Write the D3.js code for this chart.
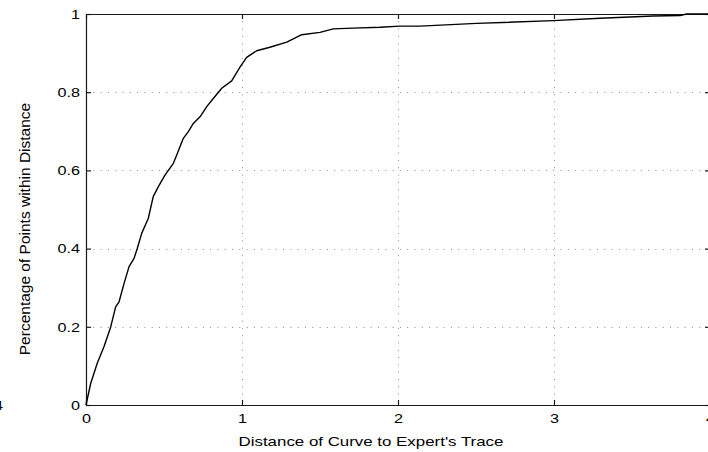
<!DOCTYPE html>
<html>
<head>
<meta charset="utf-8">
<script src="https://cdn.jsdelivr.net/npm/d3@7"></script>
<style>
  html, body { margin: 0; padding: 0; background: #fff; overflow: hidden; }
  svg { display: block; }
  text { font-family: "Liberation Sans", Arial, Helvetica, sans-serif; fill: #000; }
</style>
</head>
<body>
<svg id="chart" width="708" height="452"></svg>
<script>
// Cumulative fraction of points within a given distance of the expert's trace
const distance = [0, 0.030, 0.072, 0.115, 0.158, 0.190, 0.212, 0.244, 0.276, 0.308, 0.329,
  0.357, 0.399, 0.431, 0.463, 0.506, 0.560, 0.581, 0.624, 0.656, 0.688, 0.731, 0.774,
  0.816, 0.870, 0.934, 0.987, 1.030, 1.094, 1.179, 1.287, 1.383, 1.500, 1.585, 1.713,
  1.885, 2.013, 2.141, 2.504, 2.996, 3.295, 3.637, 3.808, 3.850, 4.0];
const fraction = [0, 0.055, 0.107, 0.149, 0.199, 0.251, 0.264, 0.311, 0.354, 0.375, 0.401,
  0.439, 0.477, 0.533, 0.558, 0.588, 0.618, 0.639, 0.682, 0.699, 0.720, 0.737, 0.763,
  0.784, 0.810, 0.829, 0.864, 0.889, 0.906, 0.915, 0.928, 0.947, 0.953, 0.962, 0.964,
  0.966, 0.969, 0.969, 0.976, 0.983, 0.989, 0.995, 0.996, 1.0, 1.0];

const xTicks = [0, 1, 2, 3, 4];
const yTicks = [0, 0.2, 0.4, 0.6, 0.8, 1];
const xTitle = "Distance of Curve to Expert's Trace";
const yTitle = "Percentage of Points within Distance";

const margin = { left: 86, top: 14 };
const plotW = 624, plotH = 391;

const svg = d3.select("#chart");
const g = svg.append("g").attr("transform", `translate(${margin.left},${margin.top})`);

const x = d3.scaleLinear().domain([0, 4]).range([0, plotW]);
const y = d3.scaleLinear().domain([0, 1]).range([plotH, 0]);

// widen a text horizontally by a factor, keeping its anchor
function widen(sel, k) {
  sel.each(function () {
    const len = this.getComputedTextLength();
    if (len > 0) {
      d3.select(this).attr("textLength", len * k).attr("lengthAdjust", "spacingAndGlyphs");
    }
  });
}

// dotted grid
const grid = g.append("g").attr("stroke", "#8f8f8f").attr("stroke-width", 1)
  .attr("stroke-dasharray", "1,6.3");
grid.selectAll("line.vx").data(xTicks.filter(d => d > 0 && d < 4)).join("line")
  .attr("x1", d => Math.round(x(d)) + 0.5).attr("x2", d => Math.round(x(d)) + 0.5)
  .attr("y1", 0).attr("y2", plotH);
grid.selectAll("line.hy").data(yTicks.filter(d => d > 0 && d < 1)).join("line")
  .attr("y1", d => Math.round(y(d)) + 0.5).attr("y2", d => Math.round(y(d)) + 0.5)
  .attr("x1", 0).attr("x2", plotW);

// box axes with inward ticks
const tickLen = 5;
const fmt = d => String(d);
const axisBottomG = g.append("g").attr("transform", `translate(0,${plotH})`)
  .call(d3.axisBottom(x).tickValues(xTicks).tickSizeInner(-tickLen).tickSizeOuter(0)
    .tickPadding(8).tickFormat(fmt));
const axisLeftG = g.append("g")
  .call(d3.axisLeft(y).tickValues(yTicks).tickSizeInner(-tickLen).tickSizeOuter(0)
    .tickPadding(6).tickFormat(fmt));
const axisTopG = g.append("g")
  .call(d3.axisTop(x).tickValues(xTicks).tickSizeInner(-tickLen).tickSizeOuter(0).tickFormat(""));
const axisRightG = g.append("g").attr("transform", `translate(${plotW},0)`)
  .call(d3.axisRight(y).tickValues(yTicks).tickSizeInner(-tickLen).tickSizeOuter(0).tickFormat(""));

[axisBottomG, axisLeftG, axisTopG, axisRightG].forEach(a => {
  a.select(".domain").attr("stroke", "#1a1a1a").attr("stroke-width", 1.2);
  a.selectAll(".tick line").attr("stroke", "#1a1a1a").attr("stroke-width", 1.2);
  a.selectAll(".tick text").attr("font-size", 13.5).attr("fill", "#000")
    .style("font-family", '"Liberation Sans", Arial, sans-serif');
});
widen(axisBottomG.selectAll(".tick text"), 1.2);
widen(axisLeftG.selectAll(".tick text"), 1.2);

// curve
const line = d3.line().x((d, i) => x(distance[i])).y(d => y(d));
g.append("path").datum(fraction)
  .attr("d", line)
  .attr("fill", "none").attr("stroke", "#000").attr("stroke-width", 1.4)
  .attr("stroke-linejoin", "round");

// axis titles
const xt = svg.append("text").attr("x", 371).attr("y", 446).attr("text-anchor", "middle")
  .attr("font-size", 13.5).text(xTitle);
widen(xt, 1.25);
svg.append("text").attr("transform", "translate(30,229) rotate(-90)")
  .attr("text-anchor", "middle").attr("font-size", 15.5).text(yTitle);

// neighbouring panel's tick label at the edge
const edge = svg.append("text").attr("x", 3).attr("y", 410).attr("text-anchor", "end")
  .attr("font-size", 13.5).text("4");
widen(edge, 1.2);
</script>
</body>
</html>
